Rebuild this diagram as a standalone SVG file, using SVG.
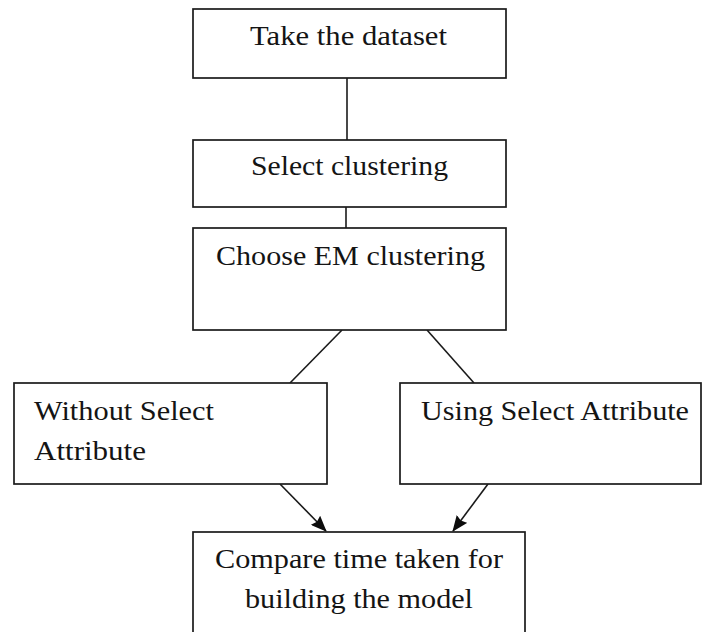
<svg xmlns="http://www.w3.org/2000/svg" width="702" height="632" viewBox="0 0 702 632">
  <style>
    .box { fill: #ffffff; stroke: #1a1a1a; stroke-width: 1.7; }
    .lbl { font-family: "Liberation Serif", "Times New Roman", serif; font-size: 28px; fill: #141414; }
    .edge { fill: none; stroke: #1a1a1a; stroke-width: 1.6; }
  </style>
  <defs>
    <marker id="arrow" viewBox="0 0 16 13" refX="15" refY="6.5" markerWidth="16" markerHeight="13" markerUnits="userSpaceOnUse" orient="auto">
      <path d="M0,0 L16,6.5 L0,13 L2,6.5 z" fill="#0d0d0d"/>
    </marker>
  </defs>
  <rect width="702" height="632" fill="#ffffff"/>

  <g id="connectors">
    <line class="edge" x1="347" y1="78" x2="347" y2="140"/>
    <line class="edge" x1="346" y1="207" x2="346" y2="228"/>
    <line class="edge" x1="342" y1="330" x2="290" y2="383"/>
    <line class="edge" x1="427" y1="330" x2="474" y2="383"/>
    <line class="edge" x1="280" y1="484" x2="326" y2="531" marker-end="url(#arrow)"/>
    <line class="edge" x1="488" y1="484" x2="453" y2="531" marker-end="url(#arrow)"/>
  </g>

  <g id="take-dataset">
    <rect class="box" x="193" y="9" width="313" height="69"/>
    <text class="lbl" x="250" y="45" textLength="197" lengthAdjust="spacingAndGlyphs">Take the dataset</text>
  </g>

  <g id="select-clustering">
    <rect class="box" x="193" y="140" width="313" height="67"/>
    <text class="lbl" x="251" y="175" textLength="197" lengthAdjust="spacingAndGlyphs">Select clustering</text>
  </g>

  <g id="choose-em">
    <rect class="box" x="193" y="228" width="313" height="102"/>
    <text class="lbl" x="216" y="265" textLength="269" lengthAdjust="spacingAndGlyphs">Choose EM clustering</text>
  </g>

  <g id="without-select">
    <rect class="box" x="14" y="383" width="313" height="101"/>
    <text class="lbl" x="34" y="420" textLength="180" lengthAdjust="spacingAndGlyphs">Without Select</text>
    <text class="lbl" x="34" y="460" textLength="112" lengthAdjust="spacingAndGlyphs">Attribute</text>
  </g>

  <g id="using-select">
    <rect class="box" x="400" y="383" width="301" height="101"/>
    <text class="lbl" x="421" y="420" textLength="268" lengthAdjust="spacingAndGlyphs">Using Select Attribute</text>
  </g>

  <g id="compare-time">
    <rect class="box" x="193" y="532" width="332" height="110"/>
    <text class="lbl" x="215" y="568" textLength="288" lengthAdjust="spacingAndGlyphs">Compare time taken for</text>
    <text class="lbl" x="245" y="608" textLength="228" lengthAdjust="spacingAndGlyphs">building the model</text>
  </g>
</svg>
